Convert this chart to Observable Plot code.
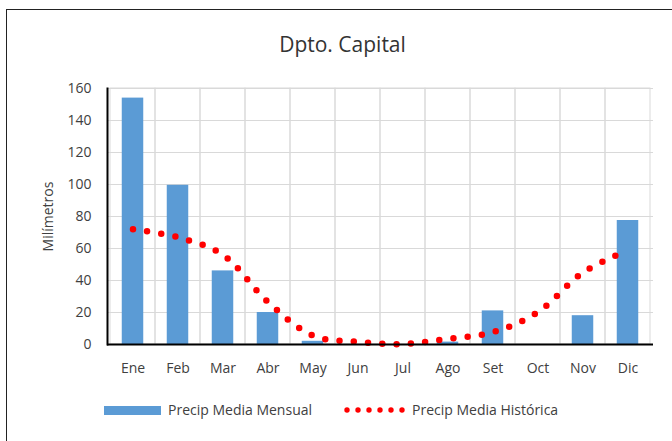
<!DOCTYPE html>
<html><head><meta charset="utf-8">
<script src="https://cdn.jsdelivr.net/npm/d3@7"></script>
<script src="https://cdn.jsdelivr.net/npm/@observablehq/plot@0.6"></script>
<style>
body{margin:0;background:#fff;}
#wrap{position:relative;width:672px;height:441px;overflow:hidden;font-family:"Open Sans",sans-serif;background:#fff;}
#frame{position:absolute;left:6px;top:9px;width:700px;height:500px;border-left:1.5px solid #222;border-top:1.5px solid #222;}
#title{position:absolute;left:0;width:685px;top:30px;text-align:center;font-size:21px;color:#333;line-height:28px;}
#chart{position:absolute;left:0;top:60px;}
#legend{position:absolute;left:104px;top:400px;display:flex;align-items:center;font-size:14px;color:#404040;line-height:20px;}
.sw{display:inline-block;width:57px;height:9px;background:#5b9bd5;margin-right:7px;}
.item{display:flex;align-items:center;}
</style></head>
<body>
<div id="wrap">
<div id="frame"></div>
<div id="title">Dpto. Capital</div>
<div id="chart"></div>
<div id="legend">
 <div class="item"><span class="sw"></span><span id="l1"></span></div>
 <div class="item" style="margin-left:32px"><svg width="64" height="10" style="margin-right:4px"><g id="dots"></g></svg><span id="l2"></span></div>
</div>
</div>
<script>
const months = ["Ene","Feb","Mar","Abr","May","Jun","Jul","Ago","Set","Oct","Nov","Dic"];
const mensual = [154, 99.5, 46, 20, 2, 0, 0, 1.5, 21, 0, 18, 77.5];
const historica = [72, 67, 56, 26.5, 5.5, 1.6, 0.3, 3.5, 7.7, 20.3, 45, 59];
const yTicks = [0, 20, 40, 60, 80, 100, 120, 140, 160];
const seriesNames = ["Precip Media Mensual", "Precip Media Histórica"];

document.getElementById("l1").textContent = seriesNames[0];
document.getElementById("l2").textContent = seriesNames[1];
const g = document.getElementById("dots");
for (let i = 0; i < 6; i++) {
  const c = document.createElementNS("http://www.w3.org/2000/svg", "circle");
  c.setAttribute("cx", 3 + i * 11); c.setAttribute("cy", 5); c.setAttribute("r", 2.7);
  c.setAttribute("fill", "#ff0000");
  g.appendChild(c);
}

const chart = Plot.plot({
  width: 672, height: 330,
  marginLeft: 107, marginRight: 19, marginTop: 28, marginBottom: 46,
  style: {fontFamily: "Open Sans", fontSize: "14px", color: "#404040", background: "transparent", overflow: "visible"},
  x: {domain: months, padding: 0, label: null},
  y: {domain: [0, 160], ticks: yTicks, label: "Milímetros"},
  marks: [
    Plot.ruleY(yTicks, {stroke: "#d9d9d9", strokeOpacity: 1}),
    Plot.cell(months, {x: d => d, fill: "none", stroke: "#d9d9d9"}),
    Plot.barY(months, {x: d => d, y: (d, i) => mensual[i], fill: "#5b9bd5", insetLeft: 11.75, insetRight: 11.75}),
    Plot.line(months, {x: d => d, y: (d, i) => historica[i], curve: "catmull-rom", stroke: "#ff0000", strokeWidth: 6.5, strokeDasharray: "0 14.3", strokeLinecap: "round"}),
    Plot.ruleY([0], {stroke: "black", strokeWidth: 2}),
    Plot.frame({anchor: "left", stroke: "black", strokeWidth: 2}),
    Plot.axisX({tickSize: 0, tickPadding: 19, label: null}),
    Plot.axisY({tickSize: 0, tickPadding: 16, ticks: yTicks, label: "Milímetros", labelAnchor: "center", labelArrow: "none", labelOffset: 64})
  ]
});
document.getElementById("chart").appendChild(chart);
</script>
</body></html>
